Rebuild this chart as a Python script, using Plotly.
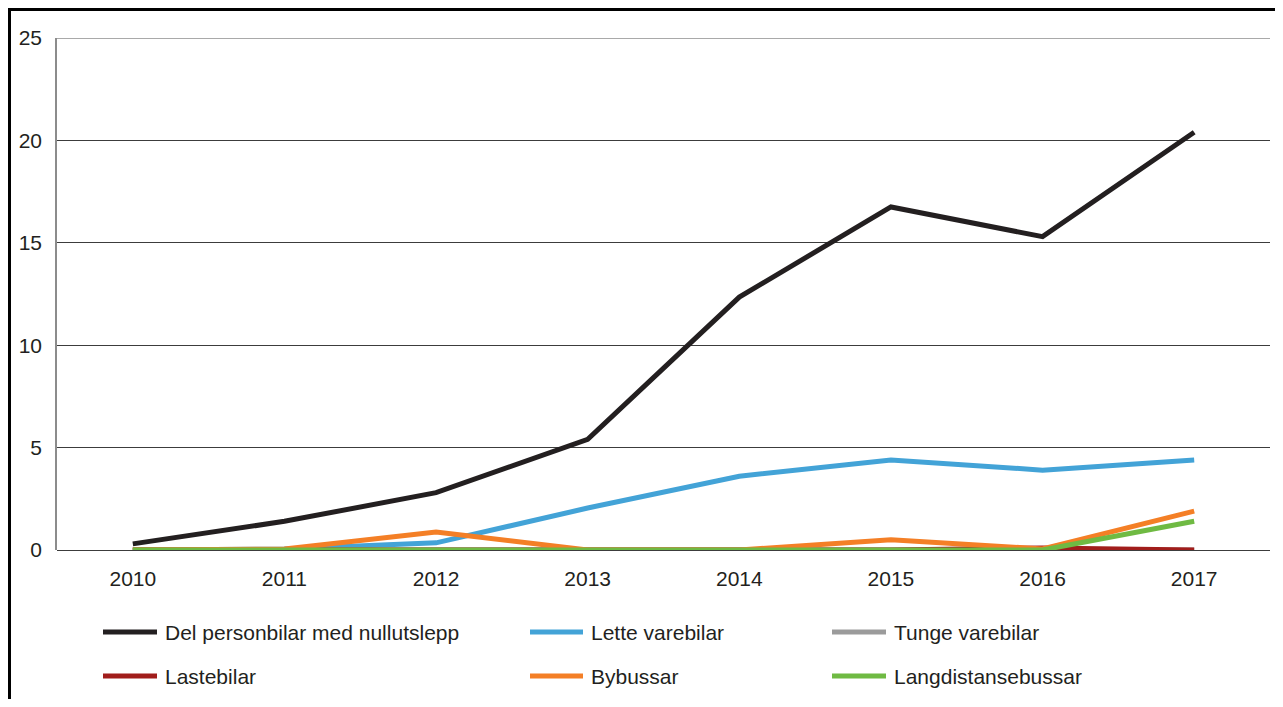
import plotly.graph_objects as go

years = ["2010", "2011", "2012", "2013", "2014", "2015", "2016", "2017"]

personbil = [0.3, 1.4, 2.8, 5.4, 12.35, 16.75, 15.3, 20.4]
lette_varebilar = [0.0, 0.05, 0.35, 2.05, 3.6, 4.4, 3.9, 4.4]
tunge_varebilar = [0.0, 0.0, 0.0, 0.0, 0.0, 0.0, 0.0, 0.0]
lastebilar = [0.0, 0.0, 0.0, 0.0, 0.0, 0.0, 0.1, 0.0]
bybussar = [0.0, 0.05, 0.88, 0.0, 0.0, 0.5, 0.05, 1.9]
langdistansebussar = [0.0, 0.0, 0.0, 0.0, 0.0, 0.0, 0.0, 1.4]

series = [
    ("Del personbilar med nullutslepp", personbil, "#231f20"),
    ("Lette varebilar", lette_varebilar, "#43a3d7"),
    ("Tunge varebilar", tunge_varebilar, "#9b9b9b"),
    ("Lastebilar", lastebilar, "#a11d1b"),
    ("Bybussar", bybussar, "#f47f26"),
    ("Langdistansebussar", langdistansebussar, "#6fba43"),
]

FONT = "Liberation Sans, Arial, sans-serif"
TEXT = "#231f20"

# the page puts an 8px body margin round the figure
OFF = 8
W, H = 1283 - 2 * OFF, 707 - 2 * OFF
L, R, T, B = 57 - OFF, 1270 - OFF, 38 - OFF, 550 - OFF   # plot box in figure pixels


def px(x):
    return (x - OFF - L) / (R - L)


def py(y):
    return (B - (y - OFF)) / (B - T)


fig = go.Figure()
for name, vals, col in series:
    fig.add_trace(go.Scatter(
        x=years, y=vals, mode="lines", name=name,
        line=dict(color=col, width=5),
        showlegend=False,
    ))

# legend drawn by hand: two rows, three uneven columns (page pixels)
cols = [(103, 157), (530, 583), (832, 886)]
rows = [632, 676]
shapes = []
annotations = []
for i, (name, _, col) in enumerate(series):
    x0, x1 = cols[i % 3]
    y = rows[i // 3]
    shapes.append(dict(
        type="line", xref="paper", yref="paper",
        x0=px(x0), x1=px(x1), y0=py(y), y1=py(y),
        line=dict(color=col, width=5),
    ))
    annotations.append(dict(
        text=name, xref="paper", yref="paper", showarrow=False,
        x=px(x1 + 6), y=py(y),
        xanchor="left", yanchor="middle",
        font=dict(family=FONT, size=21, color=TEXT),
    ))

# black frame round the whole figure
shapes.append(dict(
    type="rect", xref="paper", yref="paper",
    x0=px(9.5), x1=px(1320), y0=py(740), y1=py(9.5),
    line=dict(color="#000000", width=3), fillcolor="rgba(0,0,0,0)",
    layer="above",
))
# lighter top gridline
shapes.append(dict(
    type="line", xref="paper", yref="y", x0=0, x1=1, y0=25, y1=25,
    line=dict(color="#8c8c8c", width=1.5),
))

fig.update_layout(
    width=W, height=H,
    paper_bgcolor="white", plot_bgcolor="white",
    margin=dict(l=L, r=W - R, t=T, b=H - B, pad=0),
    font=dict(family=FONT, size=21, color=TEXT),
    showlegend=False,
    shapes=shapes,
    annotations=annotations,
    xaxis=dict(
        type="category", range=[-0.5, 7.5], showgrid=False, zeroline=False, showline=False,
        ticks="", ticklabelstandoff=14,
        tickfont=dict(family=FONT, size=21, color=TEXT),
    ),
    yaxis=dict(
        range=[0, 25], dtick=5, showgrid=True, gridcolor="#3c3c3c", gridwidth=1,
        zeroline=True, zerolinecolor="#3c3c3c", zerolinewidth=1,
        showline=True, linecolor="#8c8c8c", linewidth=1.5,
        ticks="", ticklabelstandoff=9,
        tickfont=dict(family=FONT, size=21, color=TEXT),
    ),
)

fig.write_html("out.html")
